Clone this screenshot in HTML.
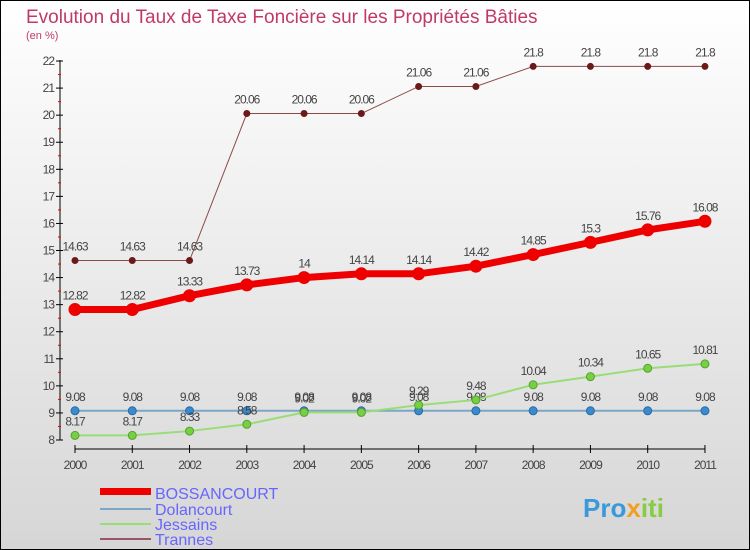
<!DOCTYPE html>
<html><head><meta charset="utf-8"><style>
body{margin:0}
#c{width:750px;height:550px;position:relative;box-sizing:border-box;border:1px solid #000;background:linear-gradient(#fff,#d6d6d6);overflow:hidden;font-family:"Liberation Sans",sans-serif}
</style></head><body>
<div id="c">
<svg id="s" width="750" height="550" style="position:absolute;left:-1px;top:-1px">
<text x="26" y="23" font-size="19" fill="#c0396a">Evolution du Taux de Taxe Foncière sur les Propriétés Bâties</text>
<text x="26" y="39" font-size="11" fill="#c0396a">(en %)</text>
<g id="g"></g>
<g>
<rect x="100" y="488" width="51" height="7" fill="#e00"/>
<text x="155" y="499" font-size="16" fill="#66f">BOSSANCOURT</text>
<rect x="100" y="508" width="51" height="2" fill="#7aa6c8"/>
<text x="155" y="515" font-size="16" fill="#66f">Dolancourt</text>
<rect x="100" y="523" width="51" height="2" fill="#99dd77"/>
<text x="155" y="530" font-size="16" fill="#66f">Jessains</text>
<rect x="100" y="538" width="51" height="2" fill="#956"/>
<text x="155" y="545" font-size="16" fill="#66f">Trannes</text>
</g>
<text x="583" y="517" font-size="26" font-weight="bold" fill="#3a9ad9">Pro<tspan fill="#f0a020">x</tspan><tspan fill="#8c4">iti</tspan></text>
</svg>
</div>
<script>
const years=["2000","2001","2002","2003","2004","2005","2006","2007","2008","2009","2010","2011"];
const yTicks=[8,9,10,11,12,13,14,15,16,17,18,19,20,21,22];
const bossancourt=[12.82,12.82,13.33,13.73,14,14.14,14.14,14.42,14.85,15.3,15.76,16.08];
const dolancourt=[9.08,9.08,9.08,9.08,9.08,9.08,9.08,9.08,9.08,9.08,9.08,9.08];
const jessains=[8.17,8.17,8.33,8.58,9.02,9.02,9.29,9.48,10.04,10.34,10.65,10.81];
const trannes=[14.63,14.63,14.63,20.06,20.06,20.06,21.06,21.06,21.8,21.8,21.8,21.8];
const NS="http://www.w3.org/2000/svg";
const g=document.getElementById('g');
const X=i=>75+i*57.27;
const Y=v=>440-(v-8)*27.07;
function el(t,a,p){const e=document.createElementNS(NS,t);for(const k in a)e.setAttribute(k,a[k]);(p||g).appendChild(e);return e;}
let ax=el('line',{x1:60,y1:Y(22)-1,x2:60,y2:Y(8),stroke:'#000'});


yTicks.forEach(v=>{
 el('line',{x1:56,x2:63,y1:Y(v),y2:Y(v),stroke:'#000'});
 if(v<22)el('line',{x1:58,x2:61,y1:Y(v+0.5),y2:Y(v+0.5),stroke:'#e00'});
 const t=el('text',{x:54,y:Y(v)+4,'font-size':12,fill:'#444','text-anchor':'end','letter-spacing':'-1'});t.textContent=v;
 
 
});
let xa=el('line',{x1:X(0),y1:449,x2:X(11),y2:449,stroke:'#000'});


years.forEach((y,i)=>{
 el('line',{x1:X(i),x2:X(i),y1:445,y2:453,stroke:'#000'});
 const t=el('text',{x:X(i),y:469,'font-size':12,fill:'#444','text-anchor':'middle','letter-spacing':'-1'});t.textContent=y;
 
 
});
function series(name,data,color,w,r,dot,stroke){
 const pts=data.map((v,i)=>X(i)+','+Y(v)).join(' ');
 const l=el('polyline',{points:pts,fill:'none',stroke:color,'stroke-width':w});
 
 
 data.forEach((v,i)=>{
  const c=el('circle',{cx:X(i),cy:Y(v),r:r,fill:dot,stroke:stroke,'stroke-width':1});
  
  
  const t=el('text',{x:X(i),y:Y(v)-10,'font-size':12,fill:'#444','text-anchor':'middle','letter-spacing':'-1'});t.textContent=v;
  
  
 });
}
series('trannes',trannes,'#8b4a4a',1,3,'#6b1a1a','#6b1a1a');
series('dolancourt',dolancourt,'#7aa6c8',2,4,'#3a8ad0','#2a6aa0');
series('jessains',jessains,'#99dd77',2,4,'#77d044','#55a030');
series('bossancourt',bossancourt,'#e00',7,6,'#e00','#e00');
</script>
</body></html>
